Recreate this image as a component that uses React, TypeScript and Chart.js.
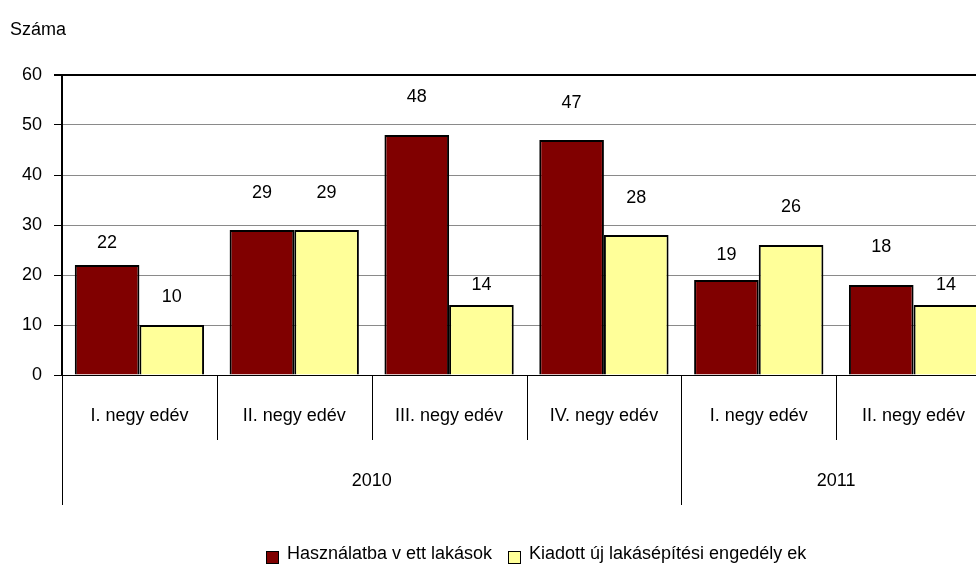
import React, { useEffect, useRef } from "react";
import { Chart, registerables } from "chart.js";

Chart.register(...registerables);

const categories = ["I. negy edév", "II. negy edév", "III. negy edév", "IV. negy edév", "I. negy edév", "II. negy edév"];
const years = ["2010", "2011"];
const yearSpans = [4, 2];
const completed = [22, 29, 48, 47, 19, 18];
const permits = [10, 29, 14, 28, 26, 14];
const seriesNames = ["Használatba v ett lakások", "Kiadott új lakásépítési engedély ek"];
const yTicks = [0, 10, 20, 30, 40, 50, 60];
const axisTitle = "Száma";
// pixel gap between bar top and centre of its value label
const completedLift = [22, 37, 38, 37, 25, 38];
const permitsLift = [28, 37, 20, 37, 38, 20];

const FONT = "'Liberation Sans', Arial, sans-serif";
const FS = 18;

const overlay = {
  id: "overlay",
  afterDraw(chart: any) {
    const { ctx, chartArea } = chart;
    const x = chart.scales.x;
    const bottom = chartArea.bottom;
    ctx.save();
    ctx.font = `${FS}px ${FONT}`;
    ctx.fillStyle = "#000";
    ctx.textAlign = "center";
    ctx.textBaseline = "middle";
    const lifts = [completedLift, permitsLift];
    chart.data.datasets.forEach((ds: any, di: number) => {
      const meta = chart.getDatasetMeta(di);
      meta.data.forEach((el: any, i: number) => {
        ctx.fillText(String(ds.data[i]), el.x, el.y - lifts[di][i]);
      });
    });
    const n = categories.length;
    const half = (x.getPixelForValue(1) - x.getPixelForValue(0)) / 2;
    categories.forEach((c, i) => {
      ctx.fillText(c, x.getPixelForValue(i), bottom + 41);
    });
    const yearStarts: number[] = [];
    let acc = 0;
    yearSpans.forEach((s) => { yearStarts.push(acc); acc += s; });
    ctx.strokeStyle = "#000";
    ctx.lineWidth = 1;
    for (let i = 0; i <= n; i++) {
      const bx = Math.round(x.getPixelForValue(i) - half) + 0.5;
      const isYear = yearStarts.includes(i);
      const len = isYear ? 130 : 65;
      ctx.beginPath();
      ctx.moveTo(bx, bottom);
      ctx.lineTo(bx, bottom + len);
      ctx.stroke();
    }
    years.forEach((yr, k) => {
      const s = yearStarts[k];
      const e = s + yearSpans[k] - 1;
      const cx = (x.getPixelForValue(s) + x.getPixelForValue(e)) / 2;
      ctx.fillText(yr, cx, bottom + 106);
    });
    ctx.textAlign = "left";
    ctx.fillText(axisTitle, 10, 30);
    const colors = ["#800000", "#FFFF99"];
    const legendX = [266, 508];
    const ly = 557;
    seriesNames.forEach((name, i) => {
      ctx.fillStyle = colors[i];
      ctx.fillRect(legendX[i], ly - 6, 13, 13);
      ctx.strokeStyle = "#000";
      ctx.lineWidth = 1;
      ctx.strokeRect(legendX[i] + 0.5, ly - 6 + 0.5, 12, 12);
      ctx.fillStyle = "#000";
      ctx.fillText(name, legendX[i] + 21, ly - 3);
    });
    ctx.restore();
  },
};

export default function App() {
  const ref = useRef<HTMLCanvasElement>(null);
  useEffect(() => {
    if (!ref.current) return;
    const chart = new Chart(ref.current, {
      type: "bar",
      data: {
        labels: categories,
        datasets: [
          {
            label: seriesNames[0],
            data: completed,
            backgroundColor: "#800000",
            borderColor: "#000",
            borderWidth: 2,
            barPercentage: 1,
            categoryPercentage: 0.835,
          },
          {
            label: seriesNames[1],
            data: permits,
            backgroundColor: "#FFFF99",
            borderColor: "#000",
            borderWidth: 2,
            barPercentage: 1,
            categoryPercentage: 0.835,
          },
        ],
      },
      options: {
        responsive: false,
        animation: false,
        devicePixelRatio: 1,
        layout: { padding: { top: 75, bottom: 192, left: 0, right: 1 } },
        plugins: { legend: { display: false }, tooltip: { enabled: false } },
        scales: {
          x: { display: false },
          y: {
            min: 0,
            max: 60,
            afterBuildTicks: (s: any) => { s.ticks = yTicks.map((v) => ({ value: v })); },
            afterFit: (s: any) => { s.width = 62; },
            ticks: { color: "#000", padding: 12, font: { family: FONT, size: FS } },
            grid: {
              color: (c: any) => (c.tick && (c.tick.value === 60 || c.tick.value === 0) ? "#000" : "#8a8a8a"),
              lineWidth: (c: any) => (c.tick && c.tick.value === 60 ? 2 : 1),
              tickColor: "#000",
              tickLength: 8,
            },
            border: { display: true, color: "#000", width: 2 },
          },
        },
      },
      plugins: [overlay],
    });
    return () => chart.destroy();
  }, []);
  return (
    <div style={{ position: "absolute", left: 0, top: 0, width: 976, height: 567, overflow: "hidden", background: "#fff" }}>
      <canvas ref={ref} width={992} height={567} style={{ width: 992, height: 567, display: "block" }} />
    </div>
  );
}
